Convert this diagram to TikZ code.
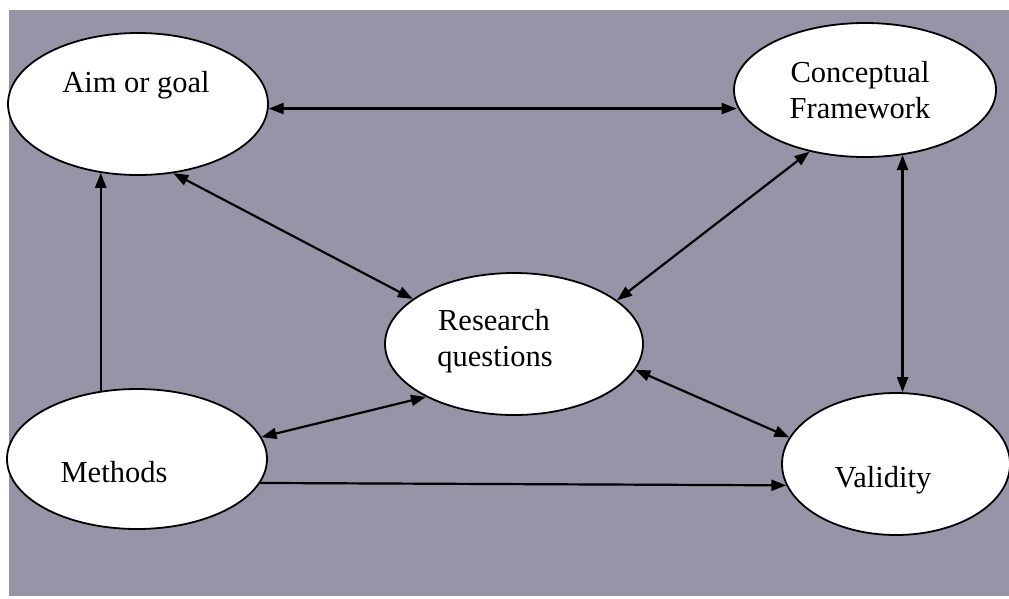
\documentclass[tikz,border=0pt]{standalone}
\usepackage{fontspec}
\setmainfont{Liberation Serif}
\usetikzlibrary{shapes.geometric,arrows.meta}
\definecolor{panel}{RGB}{152,148,168}
\begin{document}
\begin{tikzpicture}[x=1pt,y=-1pt,
  bubble/.style={ellipse,draw=black,line width=1.8pt,fill=white,inner sep=0pt},
  lbl/.style={anchor=base,inner sep=0pt,font=\fontsize{30.5}{36}\selectfont},
  link/.style={line width=2.2pt,{Triangle[length=15pt,width=11pt]}-{Triangle[length=15pt,width=11pt]}},
  onelink/.style={line width=2.2pt,-{Triangle[length=15pt,width=11pt]}}]
\useasboundingbox[fill=white] (0,0) rectangle (1009,598);
\fill[panel] (9,10) rectangle (1009,596);
% ellipses
\node[bubble,minimum width=260pt,minimum height=142pt] (aim) at (138,104) {};
\node[bubble,minimum width=262pt,minimum height=134pt] (concept) at (865,90) {};
\node[bubble,minimum width=258pt,minimum height=142pt] (research) at (514,344) {};
\node[bubble,minimum width=260pt,minimum height=140pt] (methods) at (137,459) {};
\node[bubble,minimum width=228pt,minimum height=142pt] (validity) at (896,464) {};
% labels
\node[lbl] (aimt) at (136,92) {Aim or goal};
\node[lbl] (conceptt1) at (860,82) {Conceptual};
\node[lbl] (conceptt2) at (860,118) {Framework};
\node[lbl] (researcht1) at (494,330) {Research};
\node[lbl] (researcht2) at (495,366) {questions};
\node[lbl] (methodst) at (114,482) {Methods};
\node[lbl] (validityt) at (883,487) {Validity};
% connectors
\draw[link] (aim.358.7) -- (aim.358.7 -| concept.187.6);
\draw[link] (aim.-63) -- (research.156);
\draw[link] (concept.228) -- (research.23);
\draw[link] (concept.300) -- (concept.300 |- validity.north);
\draw[link] (research.348) -- (validity.166);
\draw[link] (methods.10) -- (research.211);
\draw[onelink] (methods.118) -- (methods.118 |- aim.241.5);
\draw[onelink] (methods.349) -- (validity.191.5);
\end{tikzpicture}
\end{document}
